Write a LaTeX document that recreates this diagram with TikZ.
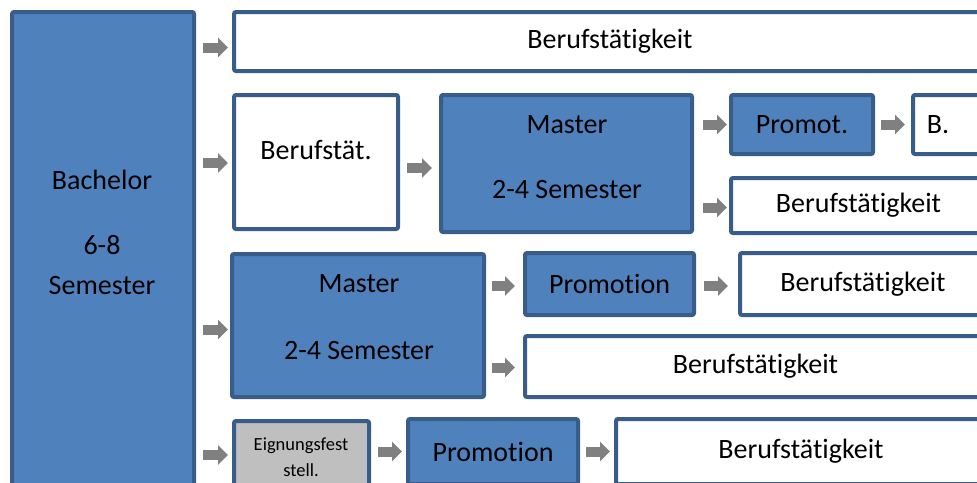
\documentclass[tikz,border=0pt]{standalone}
\usepackage{fontspec}
\setmainfont{Carlito}[Ligatures=NoCommon]
\usetikzlibrary{arrows.meta,calc}
\definecolor{bfill}{HTML}{4F81BD}
\definecolor{bline}{HTML}{385D8A}
\definecolor{gfill}{HTML}{BFBFBF}
\definecolor{agray}{HTML}{808080}
\newcommand\mybox[7]{\node[#2, minimum width={#5-#3-4}, minimum height={#6-#4-4}] (#1) at ({(#3+#5)/2},{(#4+#6)/2}) {#7};}
\begin{document}
\begin{tikzpicture}[x=1pt,y=-1pt,
  base/.style={draw=bline, line width=4pt, rounded corners=2pt, inner sep=0pt, font=\fontsize{28}{34}\selectfont},
  bbox/.style={base, fill=bfill},
  wbox/.style={base, fill=white},
  gbox/.style={base, fill=gfill},
  txt/.style={inner sep=0pt, align=center, font=\fontsize{28}{34}\selectfont},
  garrow/.style 2 args={draw=agray, line width=10pt, -{Triangle[length=10pt,width=19pt]}, shorten <=#1, shorten >=#2}]
\useasboundingbox (0,0) rectangle (977,482);
% boxes
\mybox{bach}{bbox}{10}{10}{196}{530}{}
\mybox{r1}{wbox}{232}{10}{988}{73}{Berufstätigkeit}
\mybox{bst}{wbox}{232}{93}{400}{231}{}
\mybox{m2}{bbox}{439}{93}{694}{234}{}
\mybox{pr2}{bbox}{729}{93}{875}{156}{Promot.}
\mybox{b2}{wbox}{911}{93}{1100}{156}{}
\mybox{bf2}{wbox}{729}{176}{988}{235}{Berufstätigkeit}
\mybox{m3}{bbox}{230}{252}{486}{399}{}
\mybox{pr3}{bbox}{523}{251}{696}{317}{Promotion}
\mybox{bf3}{wbox}{738}{251}{988}{317}{Berufstätigkeit}
\mybox{bf3b}{wbox}{523}{334}{988}{399}{Berufstätigkeit}
\mybox{eig}{gbox}{232}{419}{371}{530}{}
\mybox{pr4}{bbox}{406}{417}{580}{486}{Promotion}
\mybox{bf4}{wbox}{614}{417}{988}{486}{Berufstätigkeit}
% texts placed off centre
\node[txt, font=\fontsize{28}{40}\selectfont] (bachT) at (102,232) {Bachelor\\[25pt]6-8\\Semester};
\node[txt] (bstT) at (316,150) {Berufstät.};
\node[txt] (m2T) at (567,157) {Master\\[31pt]2-4 Semester};
\node[txt] (b2T) at (938,125) {B.};
\node[txt] (m3T) at (359,317) {Master\\[33pt]2-4 Semester};
\node[txt, font=\fontsize{18.5}{26}\selectfont] (eigT) at (301,457) {Eignungsfest\\stell.};
% arrows
\draw[garrow={7pt}{4pt}] ([yshift=-6pt]bach.east |- r1.west) -- ([yshift=-6pt]r1.west);
\draw[garrow={7pt}{4pt}] ([yshift=-1pt]bach.east |- bst.west) -- ([yshift=-1pt]bst.west);
\draw[garrow={7pt}{2pt}] ([yshift=-4pt]bach.east |- m3.west) -- ([yshift=-4pt]m3.west);
\draw[garrow={7pt}{4pt}] (bach.east |- 0,455) -- (eig.west |- 0,455);
\draw[garrow={7pt}{7pt}] ([yshift=-6pt]bst.east) -- ([yshift=-6pt]bst.east -| m2.west);
\draw[garrow={9pt}{2pt}] (m2.east |- pr2.west) -- (pr2.west);
\draw[garrow={6pt}{6pt}] (pr2.east) -- (b2.west);
\draw[garrow={9pt}{2pt}] ([yshift=-2pt]m2.east |- bf2.west) -- ([yshift=-2pt]bf2.west);
\draw[garrow={6pt}{8pt}] ([yshift=-2pt]m3.east |- pr3.west) -- ([yshift=-2pt]pr3.west);
\draw[garrow={8pt}{10pt}] ([yshift=-2pt]pr3.east) -- ([yshift=-2pt]bf3.west);
\draw[garrow={6pt}{8pt}] ([yshift=-1pt]m3.east |- bf3b.west) -- ([yshift=-1pt]bf3b.west);
\draw[garrow={7pt}{4pt}] (eig.east |- pr4.west) -- (pr4.west);
\draw[garrow={6pt}{4pt}] (pr4.east) -- (bf4.west);
\end{tikzpicture}
\end{document}
